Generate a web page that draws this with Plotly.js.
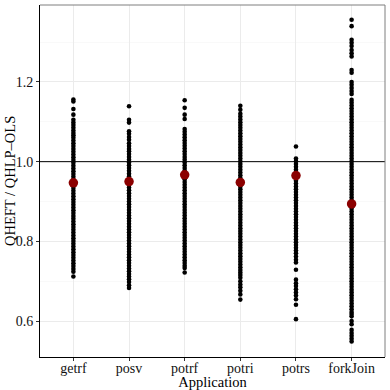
<!DOCTYPE html>
<html>
<head>
<meta charset="utf-8">
<script src="https://cdn.plot.ly/plotly-3.0.1.min.js"></script>
<style>html,body{margin:0;padding:0;background:#fff;}#chart{width:390px;height:390px;}</style>
</head>
<body>
<div id="chart"></div>
<script>
const categories = ["getrf", "posv", "potrf", "potri", "potrs", "forkJoin"];

const getrfValues = [1.156,1.151,1.132,1.118,1.105,1.098,1.092,1.085,1.078,1.072,1.066,
1.060,1.053,1.046,1.039,1.032,1.025,1.018,1.011,1.004,0.997,0.990,0.983,0.976,0.969,0.962,0.955,0.948,0.941,0.934,0.927,0.920,0.913,0.906,0.899,0.892,0.885,0.878,0.871,0.864,0.857,0.850,0.843,0.836,0.829,0.822,0.815,0.808,0.801,0.794,0.787,0.780,0.773,0.766,0.759,0.752,0.745,0.738,0.731,0.724,0.712];

const posvValues = [1.139,1.105,1.098,1.076,1.070,1.062,1.055,1.046,1.039,1.032,
1.026,1.019,1.012,1.005,0.998,0.991,0.984,0.977,0.970,0.963,0.956,0.949,0.942,0.935,0.928,0.921,0.914,0.907,0.900,0.893,0.886,0.879,0.872,0.865,0.858,0.851,0.844,0.837,0.830,0.823,0.816,0.809,0.802,0.795,0.788,0.781,0.774,0.767,0.760,0.753,0.746,0.739,0.732,0.725,0.718,0.712,0.705,0.698,0.690,0.683];

const potrfValues = [1.154,1.135,1.118,1.107,
1.082,1.075,1.068,1.061,1.054,1.047,1.040,1.033,1.026,1.019,1.012,1.005,0.998,0.991,0.984,0.977,0.970,0.963,0.956,0.949,0.942,0.935,0.928,0.921,0.914,0.907,0.900,0.893,0.886,0.879,0.872,0.865,0.858,0.851,0.844,0.837,0.830,0.823,0.816,0.809,0.802,0.795,0.788,0.781,0.774,0.767,0.760,0.753,0.746,0.739,0.733,0.722];

const potriValues = [1.140,1.130,
1.120,1.113,1.106,1.099,1.092,1.085,1.078,1.071,1.064,1.057,1.050,1.043,1.036,1.029,1.022,1.015,1.008,1.001,0.994,0.987,0.980,0.973,0.966,0.959,0.952,0.945,0.938,0.931,0.924,0.917,0.910,0.903,0.896,0.889,0.882,0.875,0.868,0.861,0.854,0.847,0.840,0.833,0.826,0.819,0.812,0.805,0.798,0.791,0.784,0.777,0.770,0.763,0.756,0.749,0.742,0.735,0.728,0.722,0.716,
0.709,0.700,0.692,0.685,0.676,0.667,0.654];

const potrsValues = [1.038,
1.008,1.001,0.994,0.987,0.980,0.973,0.966,0.959,0.952,0.945,0.938,0.931,0.924,0.917,0.910,0.903,0.896,0.889,0.882,0.875,0.868,0.861,0.854,0.847,0.840,0.833,0.826,0.819,0.812,0.805,0.798,0.791,0.784,0.777,0.770,0.762,
0.754,0.747,0.729,0.704,0.695,0.688,0.680,0.672,0.664,0.655,0.641,0.605];

const forkJoinValues = [1.356,1.340,1.306,1.298,1.290,1.280,1.272,1.264,1.230,1.223,1.200,1.193,1.185,1.177,1.170,
1.155,1.148,1.141,1.134,1.127,1.120,1.113,1.106,1.099,1.092,1.085,1.078,1.071,1.064,1.057,1.050,1.043,1.036,1.029,1.022,1.015,1.008,1.001,0.994,0.987,0.980,0.973,0.966,0.959,0.952,0.945,0.938,0.931,0.924,0.917,0.910,0.903,0.896,0.889,0.882,0.875,0.868,0.861,0.854,0.847,0.840,0.833,0.826,0.819,0.812,0.805,0.798,0.791,0.784,0.777,0.770,0.763,0.756,0.749,0.742,0.735,0.728,0.721,0.714,0.707,0.700,0.693,0.686,0.679,0.672,0.665,0.658,0.651,0.644,0.637,0.630,0.623,0.618,0.612,
0.600,0.592,0.578,0.570,0.563,0.556,0.549];

const meanValues = [0.947, 0.950, 0.967, 0.948, 0.965, 0.894];

const yTickValues = [0.6, 0.8, 1.0, 1.2];
const yTickLabels = ["0.6", "0.8", "1.0", "1.2"];

const allValues = [getrfValues, posvValues, potrfValues, potriValues, potrsValues, forkJoinValues];

const traces = allValues.map((vals, i) => ({
  type: "scatter",
  mode: "markers",
  x: vals.map(() => categories[i]),
  y: vals,
  marker: {color: "#000000", size: 4.6},
  hoverinfo: "skip",
  showlegend: false
}));

traces.push({
  type: "scatter",
  mode: "markers",
  x: categories,
  y: meanValues,
  marker: {color: "#8b0000", size: 9.5},
  showlegend: false
});

const serif = "Liberation Serif";

const layout = {
  width: 390,
  height: 390,
  margin: {l: 40, r: 5, t: 5, b: 33},
  paper_bgcolor: "#ffffff",
  plot_bgcolor: "#ffffff",
  font: {family: serif, color: "#000", size: 14},
  showlegend: false,
  xaxis: {
    type: "category",
    categoryorder: "array",
    categoryarray: categories,
    range: [-0.6, 5.6],
    showgrid: true,
    gridcolor: "#ebebeb",
    gridwidth: 1,
    showline: true,
    linecolor: "#000",
    linewidth: 1,
    ticks: "outside",
    ticklen: 3,
    tickcolor: "#333",
    ticklabelstandoff: -5,
    tickfont: {family: serif, size: 14, color: "#111"},
    title: {text: "Application", font: {family: serif, size: 14.5, color: "#000"}, standoff: 0},
    automargin: false,
    zeroline: false,
    fixedrange: true
  },
  yaxis: {
    range: [0.51, 1.393],
    tickvals: yTickValues,
    ticktext: yTickLabels,
    showgrid: true,
    gridcolor: "#ebebeb",
    gridwidth: 1,
    minor: {dtick: 0.1, tick0: 0.5, showgrid: true, gridcolor: "#f5f5f5", gridwidth: 0.6, ticks: ""},
    showline: true,
    linecolor: "#000",
    linewidth: 1,
    ticks: "outside",
    ticklen: 3,
    tickcolor: "#333",
    tickfont: {family: serif, size: 14, color: "#111"},
    automargin: false,
    zeroline: false,
    fixedrange: true
  },
  annotations: [
    {text: "QHEFT / QHLP\u2013OLS", xref: "paper", yref: "paper", x: -30 / 345, y: 0.5,
     xanchor: "center", yanchor: "middle", textangle: -90, showarrow: false,
     font: {family: serif, size: 14.5, color: "#000"}}
  ],
  shapes: [
    {type: "line", xref: "paper", yref: "y", x0: 0, x1: 1, y0: 1.0, y1: 1.0, line: {color: "#000", width: 1}, layer: "above"},
    {type: "line", xref: "paper", yref: "paper", x0: 0, x1: 1, y0: 1, y1: 1, line: {color: "#7f7f7f", width: 1}},
    {type: "line", xref: "paper", yref: "paper", x0: 1, x1: 1, y0: 0, y1: 1, line: {color: "#7f7f7f", width: 1}}
  ]
};

Plotly.newPlot("chart", traces, layout, {displayModeBar: false, staticPlot: true});
</script>
</body>
</html>
